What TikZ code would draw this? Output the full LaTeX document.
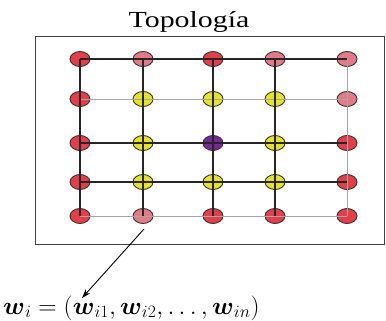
\documentclass[tikz,border=0pt]{standalone}
\usepackage{fontspec}
\usepackage{amsmath}
\setmainfont{Liberation Serif}
\usetikzlibrary{arrows.meta,shapes.geometric,positioning}

\definecolor{colR}{RGB}{228,62,74}
\definecolor{colP}{RGB}{228,122,134}
\definecolor{colY}{RGB}{230,226,44}
\definecolor{colV}{RGB}{120,40,150}

\begin{document}
\begin{tikzpicture}[
  x=1pt,y=-1pt,
  unit/.style={ellipse,draw=black!80,line width=.9pt,minimum width=20pt,minimum height=15pt,inner sep=0pt},
  link/.style={line width=1.2pt,black!85},
  faint/.style={line width=.8pt,black!35},
  pointer/.style={line width=.9pt,-{Stealth[length=9pt,width=6pt]}}
]
  \useasboundingbox (0,0) rectangle (386,321);
  \node[anchor=base,font=\fontsize{23}{26}\selectfont,xscale=1.3,inner sep=0pt] (title) at (189,28) {Topología};
  \draw[black!75,line width=1pt] (35,37) rectangle (384,244);

  % map units
  \foreach \r/\cols in {1/{R,P,R,P,P},2/{R,Y,Y,Y,P},3/{R,Y,V,Y,R},4/{R,Y,Y,Y,R},5/{R,P,R,R,R}}
    \foreach \c [count=\k] in \cols {
      \pgfmathsetmacro\xx{{80,143,213,275,347}[\k-1]}
      \pgfmathsetmacro\yy{{59,99,143,182,216}[\r-1]}
      \node[unit,fill=col\c] (n-\r-\k) at (\xx,\yy) {};
    }

  % lattice
  \foreach \r/\s in {1/link,2/faint,3/link,4/link,5/faint}
    \draw[\s] (n-\r-1.center) -- (n-\r-5.center);
  \foreach \k/\s in {1/link,2/link,3/link,4/link,5/faint}
    \draw[\s] (n-1-\k.center) -- (n-5-\k.center);

  \node[anchor=base west,font=\fontsize{23}{26}\selectfont,xscale=1.02,inner sep=0pt] (weights) at (3,314)
    {$\boldsymbol{w}_i=(\boldsymbol{w}_{i1},\boldsymbol{w}_{i2},\ldots,\boldsymbol{w}_{in})$};
  \coordinate (tail) at (144,229);
  \coordinate (head) at (82,298);
  \draw[pointer] (tail) -- (head);
\end{tikzpicture}
\end{document}
